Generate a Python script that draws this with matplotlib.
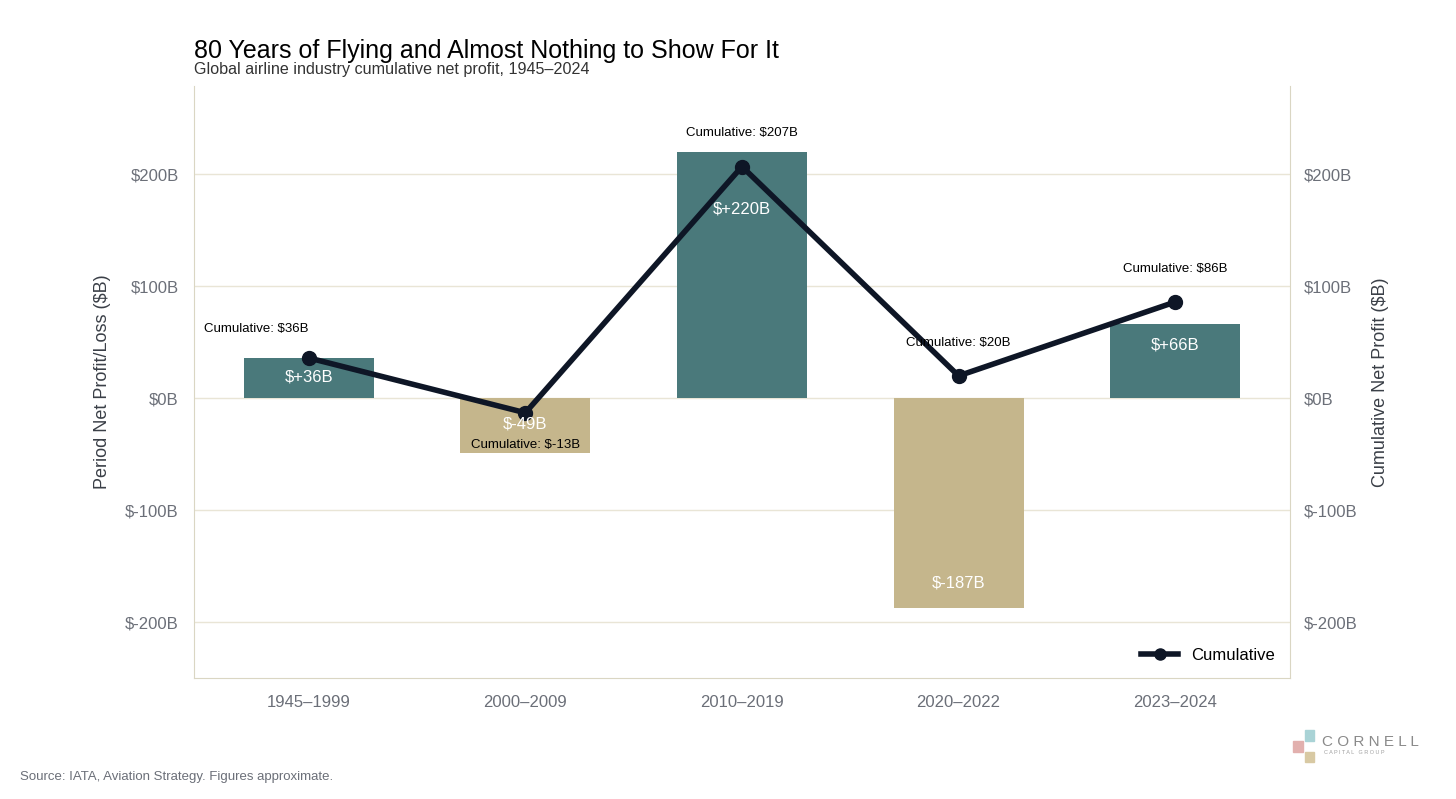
import matplotlib.pyplot as plt
from matplotlib.patches import Rectangle
from matplotlib.ticker import FuncFormatter

periods = ["1945–1999", "2000–2009", "2010–2019", "2020–2022", "2023–2024"]
period_profit = [36, -49, 220, -187, 66]
cumulative = [36, -13, 207, 20, 86]
y_ticks = [-200, -100, 0, 100, 200]

TEAL = "#4a797b"
TAN = "#c5b68c"
LINE = "#0e1626"
GRID = "#e9e5d6"
SPINE = "#dad6c3"
TICK = "#6b6f78"

plt.rcParams["font.family"] = ["Liberation Sans", "DejaVu Sans"]

fig = plt.figure(figsize=(14.56, 7.99), dpi=100)
ax = fig.add_axes([0.1332, 0.1514, 0.7528, 0.741])

x = list(range(len(periods)))
colors = [TEAL if v >= 0 else TAN for v in period_profit]
ax.bar(x, period_profit, width=0.6, color=colors, zorder=2)
ax.plot(x, cumulative, color=LINE, lw=4, marker="o", ms=10, zorder=4, label="Cumulative")

ax.set_ylim(-250, 279)
ax.set_yticks(y_ticks)
fmt = FuncFormatter(lambda v, p: f"${v:.0f}B")
ax.yaxis.set_major_formatter(fmt)
ax.set_xticks(x)
ax.set_xticklabels(periods)
ax.grid(axis="y", color=GRID, lw=1, zorder=0)
ax.tick_params(length=0, labelsize=12, colors=TICK, pad=11)
ax.tick_params(axis="x", pad=12)
for s in ["left", "right", "bottom"]:
    ax.spines[s].set_color(SPINE)
ax.spines["top"].set_visible(False)
ax.set_ylabel("Period Net Profit/Loss ($B)", fontsize=13, color="#3a3f47", labelpad=10)

ax2 = ax.twinx()
ax2.set_ylim(ax.get_ylim())
ax2.set_yticks(y_ticks)
ax2.yaxis.set_major_formatter(fmt)
ax2.tick_params(length=0, labelsize=12, colors=TICK, pad=10)
for s in ax2.spines.values():
    s.set_visible(False)
ax2.set_ylabel("Cumulative Net Profit ($B)", fontsize=13, color="#3a3f47", labelpad=10)

# bar value labels (offset from the bar end, in points)
bar_label_off = [-14, 21, -41, 18, -15]
for i, v in enumerate(period_profit):
    ax.annotate(f"${v:+d}B", (i, v), xytext=(0, bar_label_off[i]), textcoords="offset points",
                ha="center", va="center", color="white", fontsize=12, zorder=5)

# cumulative labels
cum_label_off = [(-38, 21), (0, -23), (0, 24), (0, 24), (0, 24)]
for i, v in enumerate(cumulative):
    ax.annotate(f"Cumulative: ${v}B", (i, v), xytext=cum_label_off[i], textcoords="offset points",
                ha="center", va="center", color="black", fontsize=9.5, zorder=6)

ax.legend(loc="lower right", frameon=False, fontsize=12, handlelength=2.2, markerscale=0.8)

fig.text(0.1332, 0.927, "80 Years of Flying and Almost Nothing to Show For It", fontsize=18, color="black")
fig.text(0.1332, 0.907, "Global airline industry cumulative net profit, 1945–2024", fontsize=11.6, color="#333333")
fig.text(0.0137, 0.024, "Source: IATA, Aviation Strategy. Figures approximate.", fontsize=9.5, color="#6b6f78")

# logo
fig.patches.append(Rectangle((1305 / 1456, 1 - 741 / 799), 9 / 1456, 11 / 799, transform=fig.transFigure,
                             color="#a9d3d6", figure=fig))
fig.patches.append(Rectangle((1293 / 1456, 1 - 752 / 799), 10 / 1456, 11 / 799, transform=fig.transFigure,
                             color="#e2b0ae", figure=fig))
fig.patches.append(Rectangle((1305 / 1456, 1 - 762 / 799), 9 / 1456, 10 / 799, transform=fig.transFigure,
                             color="#d8c9a3", figure=fig))
fig.text(1322 / 1456, 1 - 742 / 799, "C O R N E L L", fontsize=11, color="#8a8a8a", va="center")
fig.text(1324 / 1456, 1 - 753 / 799, "C A P I T A L   G R O U P", fontsize=4, color="#a0a0a0", va="center")

fig.savefig("out.png", dpi=100)
